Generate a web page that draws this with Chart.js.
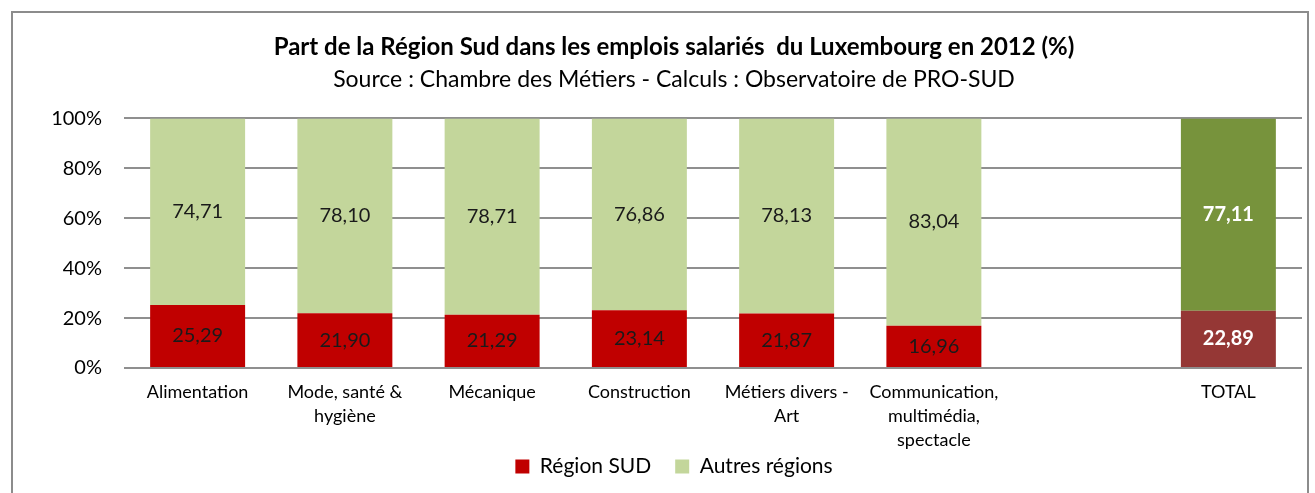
<!DOCTYPE html>
<html>
<head>
<meta charset="utf-8">
<script src="https://cdn.jsdelivr.net/npm/chart.js@4"></script>
<style>
  body { margin: 0; background: #fff; }
  #frame { position: absolute; left: 11px; top: 11px; width: 1294px; height: 500px; border: 2px solid #8c8c8c; }
  #wrap { position: absolute; left: 0; top: 0; width: 1315px; height: 493px; }
</style>
</head>
<body>
<div id="frame"></div>
<div id="wrap"><canvas id="chart" width="1315" height="493"></canvas></div>
<script>
var categories = [
    'Alimentation',
    ['Mode, santé &', 'hygiène'],
    'Mécanique',
    'Construction',
    ['Métiers divers -', 'Art'],
    ['Communication,', 'multimédia,', 'spectacle'],
    '',
    'TOTAL'
];
var regionSud = [25.29, 21.90, 21.29, 23.14, 21.87, 16.96, null, 22.89];
var autresRegions = [74.71, 78.10, 78.71, 76.86, 78.13, 83.04, null, 77.11];
var yTicks = [0, 20, 40, 60, 80, 100];

var totalIndex = 7;
var font = "Lato, 'Open Sans', sans-serif";

// write the values in the middle of each segment
var barLabels = {
    id: 'barLabels',
    afterDatasetsDraw: function (chart) {
        var c = chart.ctx;
        c.save();
        c.textAlign = 'center';
        c.textBaseline = 'middle';
        chart.data.datasets.forEach(function (ds, i) {
            chart.getDatasetMeta(i).data.forEach(function (bar, j) {
                var v = ds.data[j];
                if (v == null) return;
                var isTotal = j === totalIndex;
                c.fillStyle = isTotal ? '#ffffff' : '#1a1a1a';
                c.font = (isTotal ? 'bold ' : '') + '20px ' + font;
                c.fillText(v.toFixed(2).replace('.', ','), bar.x, (bar.y + bar.base) / 2);
            });
        });
        c.restore();
    }
};

// the 3-line category label runs down beside the legend, so don't clip it
var labelRoom = {
    id: 'labelRoom',
    afterLayout: function (chart) {
        chart.scales.x.bottom = chart.height;
    }
};

new Chart(document.getElementById('chart'), {
    type: 'bar',
    data: {
        labels: categories,
        datasets: [{
            label: 'Région SUD',
            data: regionSud,
            backgroundColor: function (ctx) { return ctx.dataIndex === totalIndex ? '#953735' : '#c00000'; }
        }, {
            label: 'Autres régions',
            data: autresRegions,
            backgroundColor: function (ctx) { return ctx.dataIndex === totalIndex ? '#77933c' : '#c3d69b'; }
        }]
    },
    options: {
        responsive: false,
        animation: false,
        datasets: { bar: { categoryPercentage: 1, barPercentage: 0.645 } },
        layout: { padding: { top: 33, right: 13, bottom: 6, left: 46 } },
        plugins: {
            title: {
                display: true,
                text: 'Part de la Région Sud dans les emplois salariés  du Luxembourg en 2012 (%)',
                color: '#000',
                font: { family: font, size: 24, weight: 'bold' },
                padding: { top: 0, bottom: 4 }
            },
            subtitle: {
                display: true,
                text: 'Source : Chambre des Métiers - Calculs : Observatoire de PRO-SUD',
                color: '#000',
                font: { family: font, size: 23 },
                padding: { top: 0, bottom: 25 }
            },
            legend: {
                position: 'bottom',
                labels: {
                    color: '#000',
                    font: { family: font, size: 21 },
                    boxWidth: 14,
                    boxHeight: 14,
                    padding: 24
                }
            },
            tooltip: { enabled: false }
        },
        scales: {
            x: {
                stacked: true,
                grid: { display: false },
                border: { display: false },
                afterFit: function (scale) { scale.height = 64; },
                ticks: {
                    color: '#000',
                    font: { family: font, size: 18, lineHeight: 1.333 },
                    maxRotation: 0,
                    autoSkip: false,
                    padding: 4
                }
            },
            y: {
                stacked: true,
                min: 0,
                max: 100,
                afterFit: function (scale) { scale.width = 78; },
                afterBuildTicks: function (scale) {
                    scale.ticks = yTicks.map(function (v) { return { value: v }; });
                },
                grid: { color: '#8f8f8f', lineWidth: 2, drawTicks: false },
                border: { display: false },
                ticks: {
                    color: '#000',
                    font: { family: font, size: 20 },
                    padding: 22,
                    callback: function (v) { return v + '%'; }
                }
            }
        }
    },
    plugins: [barLabels, labelRoom]
});
</script>
</body>
</html>
